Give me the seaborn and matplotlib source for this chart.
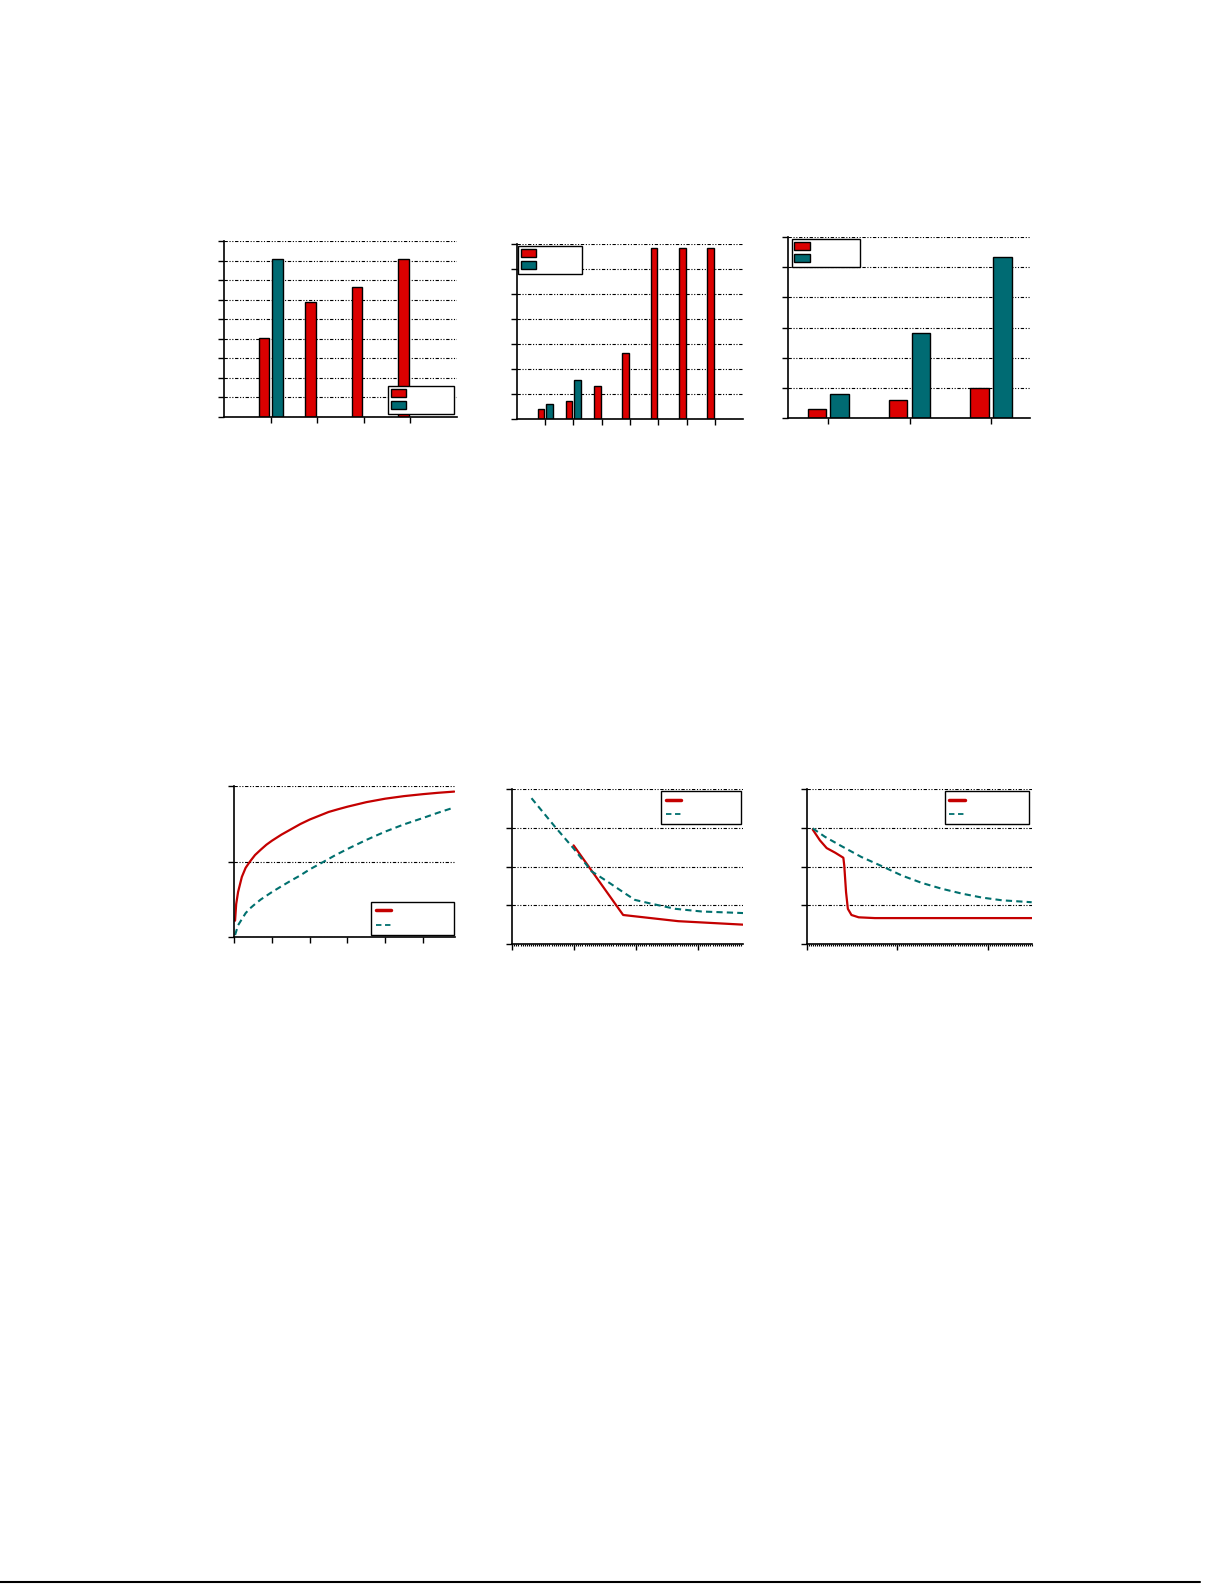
import numpy as np
import pandas as pd
import matplotlib
matplotlib.use("Agg")
import matplotlib.pyplot as plt
from matplotlib.ticker import MultipleLocator
from matplotlib.lines import Line2D
from matplotlib.patches import Patch
import seaborn as sns

RED = "#DC0000"
TEAL = "#006B73"
LINE_RED = "#C40000"
LINE_TEAL = "#00706E"
GRID_LS = (0, (3, 1.5, 1, 1.5, 1, 1.5))

# top row: bar charts (no visible labels in the source)
bar1_cats = ["c1", "c2", "c3", "c4"]
bar1_red = [4.05, 5.86, 6.63, 8.07]
bar1_teal = [8.07, None, None, None]

bar2_cats = ["c1", "c2", "c3", "c4", "c5", "c6", "c7"]
bar2_red = [0.40, 0.72, 1.32, 2.64, 6.84, 6.84, 6.84]
bar2_teal = [0.59, 1.56, None, None, None, None, None]

bar3_cats = ["c1", "c2", "c3"]
bar3_red = [0.31, 0.61, 0.99]
bar3_teal = [0.79, 2.81, 5.32]

# bottom row: line charts
line4_red_x = [0.02, 0.05, 0.1, 0.2, 0.3, 0.41, 0.55, 0.7, 0.85, 1.0, 1.25, 1.5, 1.75, 2.0,
               2.25, 2.5, 2.75, 3.0, 3.5, 4.0, 4.5, 5.0, 5.4, 5.83]
line4_red_y = [0.11, 0.22, 0.30, 0.40, 0.46, 0.50, 0.545, 0.58, 0.613, 0.64, 0.68, 0.715,
               0.75, 0.78, 0.805, 0.83, 0.848, 0.865, 0.895, 0.918, 0.935, 0.948, 0.957, 0.965]
line4_teal_x = [0.02, 0.1, 0.2, 0.3, 0.41, 0.55, 0.7, 0.85, 1.0, 1.25, 1.5, 1.75, 2.0, 2.33,
                2.65, 3.0, 3.5, 4.0, 4.5, 5.0, 5.4, 5.83]
line4_teal_y = [0.015, 0.08, 0.12, 0.16, 0.19, 0.22, 0.25, 0.275, 0.30, 0.338, 0.375, 0.41,
                0.45, 0.495, 0.54, 0.585, 0.645, 0.70, 0.748, 0.79, 0.825, 0.86]

line5_red_x = [0.99, 1.79, 2.68, 3.73]
line5_red_y = [2.55, 0.75, 0.59, 0.50]
line5_teal_x = [0.31, 0.69, 0.99, 1.28, 1.55, 1.79, 1.98, 2.25, 2.63, 3.06, 3.73]
line5_teal_y = [3.77, 3.03, 2.47, 1.88, 1.60, 1.34, 1.14, 1.04, 0.91, 0.84, 0.80]

line6_red_x = [0.06, 0.14, 0.215, 0.31, 0.40, 0.41, 0.43, 0.45, 0.49, 0.57, 0.75, 1.23, 2.49]
line6_red_y = [2.96, 2.68, 2.48, 2.36, 2.23, 2.03, 1.34, 0.91, 0.75, 0.69, 0.67, 0.67, 0.67]
line6_teal_x = [0.06, 0.197, 0.38, 0.60, 0.83, 1.05, 1.27, 1.49, 1.72, 1.94, 2.16, 2.49]
line6_teal_y = [2.99, 2.77, 2.53, 2.25, 2.01, 1.77, 1.58, 1.43, 1.30, 1.20, 1.13, 1.08]

W, H = 1225, 1585


def make_ax(fig, left, right, top, bottom):
    return fig.add_axes([left / W, 1 - bottom / H, (right - left) / W, (bottom - top) / H])


def style_ax(ax):
    ax.set_xlabel("")
    ax.set_ylabel("")
    for s in ["top", "right"]:
        ax.spines[s].set_visible(False)
    for s in ["left", "bottom"]:
        ax.spines[s].set_color("black")
        ax.spines[s].set_linewidth(1.2)
    ax.yaxis.grid(True, color="black", linestyle=GRID_LS, linewidth=0.8)
    ax.xaxis.grid(False)
    ax.set_axisbelow(True)
    ax.tick_params(which="major", direction="out", length=4, width=1, color="black",
                   bottom=True, left=True, labelleft=False, labelbottom=False)


def bar_df(cats, red, teal):
    rows = []
    for c, r, t in zip(cats, red, teal):
        rows.append({"cat": c, "series": "s1", "val": r})
        if t is not None:
            rows.append({"cat": c, "series": "s2", "val": t})
    return pd.DataFrame(rows)


def bar_chart(ax, cats, red, teal, ymax, xlim, width, gap, leg_box, leg_loc):
    df = bar_df(cats, red, teal)
    sns.barplot(data=df, x="cat", y="val", hue="series", order=cats, hue_order=["s1", "s2"],
                palette=[RED, TEAL], saturation=1, width=width, gap=gap, dodge=True,
                edgecolor="black", linewidth=1, legend=False, ax=ax)
    ax.set_xlim(*xlim)
    ax.set_ylim(0, ymax)
    ax.set_yticks(range(0, ymax + 1))
    style_ax(ax)
    handles = [Patch(facecolor=RED, edgecolor="black", linewidth=1),
               Patch(facecolor=TEAL, edgecolor="black", linewidth=1)]
    leg = ax.legend(handles, ["", ""], loc=leg_loc, bbox_to_anchor=leg_box, mode="expand",
                    fancybox=False, framealpha=1, edgecolor="black", fontsize=8,
                    handlelength=1.4, handleheight=0.75, labelspacing=0.2,
                    borderpad=0.25, borderaxespad=0)
    leg.get_frame().set_linewidth(1)


def line_chart(ax, rx, ry, tx, ty, xlim, ymax, yticks, xticks, leg_box, leg_loc, minor=None):
    sns.lineplot(x=rx, y=ry, color=LINE_RED, linewidth=1.6, sort=False, estimator=None, ax=ax)
    sns.lineplot(x=tx, y=ty, color=LINE_TEAL, linewidth=1.5, sort=False, estimator=None,
                 linestyle=(0, (3, 2)), ax=ax)
    ax.set_xlim(*xlim)
    ax.set_ylim(0, ymax)
    ax.set_yticks(yticks)
    ax.set_xticks(xticks)
    style_ax(ax)
    if minor is not None:
        ax.xaxis.set_minor_locator(MultipleLocator(minor))
        ax.tick_params(which="minor", direction="out", length=1.5, width=0.8, color="black",
                       bottom=True)
    handles = [Line2D([], [], color=LINE_RED, linewidth=2.5),
               Line2D([], [], color=LINE_TEAL, linewidth=1.3, linestyle=(0, (3, 2)))]
    leg = ax.legend(handles, ["", ""], loc=leg_loc, bbox_to_anchor=leg_box, mode="expand",
                    fancybox=False, framealpha=1, edgecolor="black", fontsize=8,
                    handlelength=1.4, labelspacing=0.4, borderpad=0.4, borderaxespad=0)
    leg.get_frame().set_linewidth(1)


sns.set_style("white")
fig = plt.figure(figsize=(W / 100, H / 100), dpi=100)

ax1 = make_ax(fig, 224.3, 456.7, 241, 416.7)
bar_chart(ax1, bar1_cats, bar1_red, bar1_teal, 9, (-1, 4), 0.59, 0.25,
          (0.704, 0.015, 0.284, 0.137), "lower left")

ax2 = make_ax(fig, 516.7, 743.3, 244, 419)
bar_chart(ax2, bar2_cats, bar2_red, bar2_teal, 7, (-1, 7), 0.60, 0.23,
          (0.006, 0.85, 0.282, 0.139), "upper left")

ax3 = make_ax(fig, 788.3, 1030, 236.7, 418.3)
bar_chart(ax3, bar3_cats, bar3_red, bar3_teal, 6, (-0.49, 2.48), 0.56, 0.19,
          (0.014, 0.848, 0.284, 0.139), "upper left")

ax4 = make_ax(fig, 234.3, 455, 786.3, 937.3)
line_chart(ax4, line4_red_x, line4_red_y, line4_teal_x, line4_teal_y, (0, 5.85), 1,
           [0, 0.5, 1], [0, 1, 2, 3, 4, 5], (0.621, 0.015, 0.376, 0.22), "lower left")

ax5 = make_ax(fig, 512.3, 743.3, 789.3, 944)
line_chart(ax5, line5_red_x, line5_red_y, line5_teal_x, line5_teal_y, (0, 3.73), 4,
           [0, 1, 2, 3, 4], [0, 1, 2, 3], (0.644, 0.774, 0.346, 0.215), "upper left",
           minor=1 / 30)

ax6 = make_ax(fig, 807.3, 1031.7, 789.3, 944)
line_chart(ax6, line6_red_x, line6_red_y, line6_teal_x, line6_teal_y, (0, 2.49), 4,
           [0, 1, 2, 3, 4], [0, 1, 2], (0.612, 0.774, 0.374, 0.215), "upper left",
           minor=1 / 45)

# page rule at the bottom
fig.add_artist(Line2D([0, 1200 / W], [1 - 1582 / H] * 2, color="black", linewidth=1.5,
                      transform=fig.transFigure))

fig.savefig("out.png", dpi=100, facecolor="white")
